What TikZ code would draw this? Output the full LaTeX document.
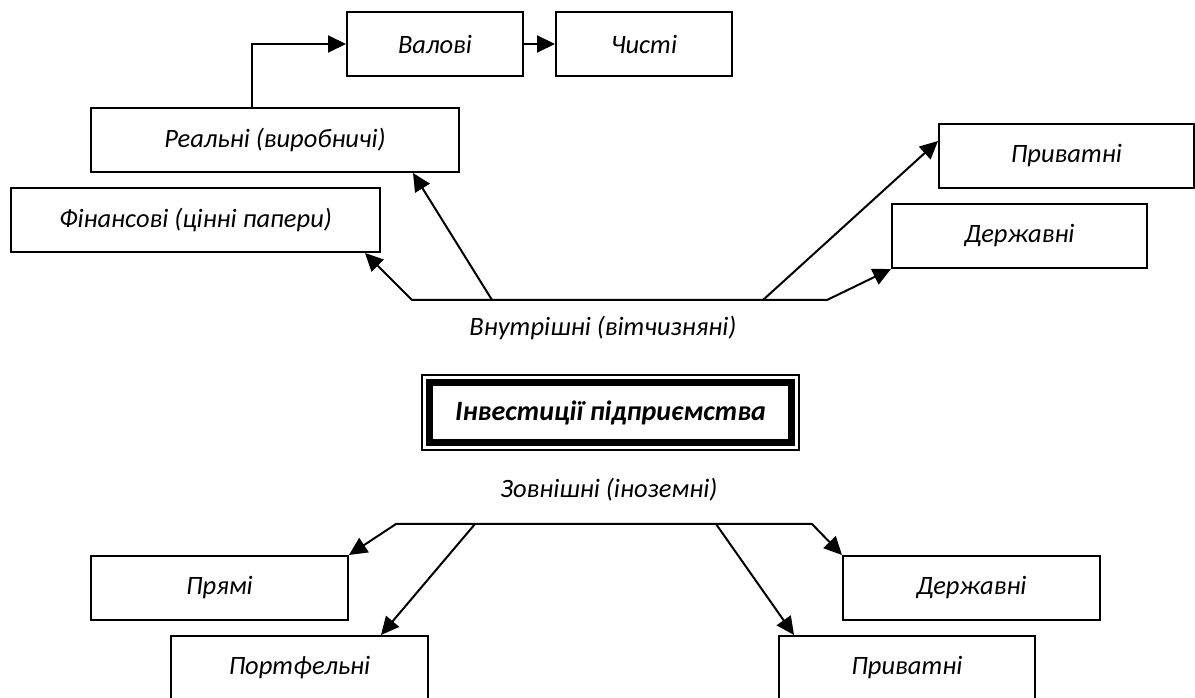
\documentclass[tikz,border=0pt]{standalone}
\usepackage{fontspec}
\setmainfont{Carlito}
\usetikzlibrary{arrows.meta,calc}

\begin{document}
\begin{tikzpicture}[x=1pt,y=1pt,
  box/.style={draw,line width=2pt,minimum height=64pt,inner sep=0pt,
    font=\fontsize{26.5}{30}\selectfont\itshape},
  arr/.style={line width=2pt,line join=miter,-{Triangle[length=18pt,width=17pt]}},
  lbl/.style={font=\fontsize{26.5}{30}\selectfont\itshape}]
  \useasboundingbox (0,0) rectangle (1195,697);

  \node[box,minimum width=176pt] (val) at (435,653) {Валові};
  \node[box,minimum width=176pt] (chys) at (644,653) {Чисті};
  \node[box,minimum width=368pt] (real) at (275,557) {Реальні (виробничі)};
  \node[box,minimum width=369pt] (fin) at (195.5,477) {Фінансові (цінні папери)};
  \node[box,minimum width=255pt] (privU) at (1066.5,541) {Приватні};
  \node[box,minimum width=255pt] (derU) at (1019.5,461) {Державні};

  \node[lbl] (vnutr) at (603,369) {Внутрішні (вітчизняні)};
  \node[draw,line width=7pt,minimum width=362pt,minimum height=60pt,inner sep=0pt,outer sep=0pt,
    font=\fontsize{28}{32}\selectfont\bfseries\itshape] (inv) at (610.5,284.5) {Інвестиції підприємства};
  \draw[line width=2pt] ($(inv.north west)+(-7.5,7.5)$) rectangle ($(inv.south east)+(7.5,-7.5)$);
  \node[lbl] (zovn) at (609,207) {Зовнішні (іноземні)};

  \node[box,minimum width=257pt] (pryami) at (219.5,109) {Прямі};
  \node[box,minimum width=257pt] (port) at (299.5,29) {Портфельні};
  \node[box,minimum width=257pt] (derL) at (971.5,109) {Державні};
  \node[box,minimum width=256pt] (privL) at (907,29) {Приватні};

  \coordinate (inA) at (412,397);
  \coordinate (inB) at (492,397);
  \coordinate (inC) at (763,397);
  \coordinate (inD) at (827,397);
  \coordinate (exA) at (396,173);
  \coordinate (exB) at (475,173);
  \coordinate (exC) at (716,173);
  \coordinate (exD) at (812,173);

  \draw[arr] ([xshift=-23pt]real.north) |- (val.west);
  \draw[arr] (val) -- (chys);
  \draw[arr] (inC) -- (inA) -- ([xshift=-16pt]fin.south east);
  \draw[arr] (inB) -- ([xshift=-47pt]real.south east);
  \draw[arr] (inC) -- (inD) -- (derU.south west);
  \draw[arr] (inC) -- ([yshift=15pt]privU.west);

  \draw[arr] (exC) -- (exA) -- (pryami.north east);
  \draw[arr] (exB) -- ([xshift=-48pt]port.north east);
  \draw[arr] (exC) -- (exD) -- (derL.north west);
  \draw[arr] (exC) -- ([xshift=16pt]privL.north west);
\end{tikzpicture}
\end{document}
